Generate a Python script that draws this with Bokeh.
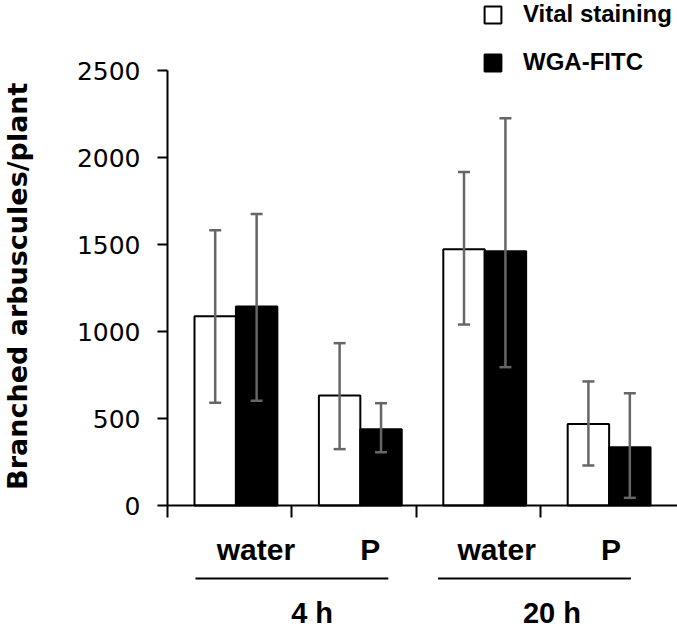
import numpy as np
from bokeh.plotting import figure
from bokeh.models import (ColumnDataSource, Range1d, LinearAxis, FixedTicker,
                          Whisker, TeeHead, Legend, LegendItem, Title)
from bokeh.core.properties import value
from bokeh.embed import file_html
from bokeh.resources import INLINE

# ---------------- data ----------------
treatments = ["water", "P", "water", "P"]
times = ["4 h", "20 h"]
series = ["Vital staining", "WGA-FITC"]

vital = [1088, 632, 1473, 469]
vital_upper = [1582, 933, 1916, 713]
vital_lower = [590, 324, 1040, 230]

wga = [1144, 438, 1461, 335]
wga_upper = [1676, 588, 2226, 645]
wga_lower = [602, 306, 795, 44]

y_ticks = [0, 500, 1000, 1500, 2000, 2500]
y_label = "Branched arbuscules/plant"

# ---------------- layout ----------------
W, H = 677, 628
LEFT = 35                # left border (frame starts here)
AXIS_X = 167             # pixel position of the y axis
Y_PX = 87 / 500.0        # pixels per y unit
X_PX = 124.4             # pixels per x unit
ZERO_FROM_BOTTOM = 123   # px between y=0 and frame bottom
BAR_W = 0.333
GROUP_OFFSET = 0.55

idx = np.arange(len(treatments))
centers = idx + GROUP_OFFSET
mids = centers.reshape(len(times), -1).mean(axis=1)

src_v = ColumnDataSource(dict(x=centers - BAR_W / 2, top=vital,
                              upper=vital_upper, lower=vital_lower))
src_w = ColumnDataSource(dict(x=centers + BAR_W / 2, top=wga,
                              upper=wga_upper, lower=wga_lower))

x_end = (W - AXIS_X) / X_PX
y0 = -ZERO_FROM_BOTTOM / Y_PX
p = figure(width=W, height=H, output_backend="svg", toolbar_location=None,
           x_range=Range1d(-(AXIS_X - LEFT) / X_PX, x_end),
           y_range=Range1d(y0, y0 + H / Y_PX),
           x_axis_location=None, y_axis_location="left",
           min_border_left=LEFT, min_border_right=0,
           min_border_top=0, min_border_bottom=0)
p.outline_line_color = None
p.grid.visible = False
p.background_fill_color = "white"
p.border_fill_color = "white"

rv = p.vbar(x="x", top="top", bottom=0, width=BAR_W, source=src_v,
            fill_color="white", line_color="black", line_width=2)
rw = p.vbar(x="x", top="top", bottom=0, width=BAR_W, source=src_w,
            fill_color="black", line_color="black", line_width=2)

for src in (src_v, src_w):
    wh = Whisker(source=src, base="x", upper="upper", lower="lower",
                 line_color="#666666", line_width=2.5, level="annotation",
                 upper_head=TeeHead(size=12, line_color="#666666", line_width=2.5),
                 lower_head=TeeHead(size=12, line_color="#666666", line_width=2.5))
    p.add_layout(wh)

# y axis, drawn at x = 0
ya = p.yaxis[0]
ya.fixed_location = 0
ya.ticker = FixedTicker(ticks=y_ticks)
ya.bounds = (0, 2500)
ya.major_tick_out = 10
ya.major_tick_in = 0
ya.minor_tick_out = 0
ya.minor_tick_in = 0
ya.axis_line_width = 2
ya.major_tick_line_width = 2
ya.axis_line_color = "black"
ya.major_tick_line_color = "black"
ya.major_label_text_font = "DejaVu Sans"
ya.major_label_text_font_size = "25px"
ya.major_label_text_color = "black"
ya.major_label_standoff = 17

# y axis title (vertical, in the left panel)
p.add_layout(Title(text=y_label, align="right", offset=82, standoff=2,
                   vertical_align="top",
                   text_font="DejaVu Sans", text_font_style="bold",
                   text_font_size="27px", text_color="black"), "left")

# x axis drawn at y = 0, ticks pointing downwards
xa = LinearAxis(fixed_location=0, ticker=FixedTicker(ticks=list(idx)),
                bounds=(0, x_end),
                major_tick_in=12, major_tick_out=0,
                minor_tick_in=0, minor_tick_out=0,
                major_label_overrides={int(i): "" for i in idx},
                major_label_text_font_size="0px", major_label_standoff=0,
                axis_line_width=2, major_tick_line_width=2,
                axis_line_color="black", major_tick_line_color="black")
p.add_layout(xa, "above")

# treatment labels
tsrc = ColumnDataSource(dict(x=centers, y=np.zeros(len(centers)), text=treatments,
                             xo=[20, 10, 12, 2]))
p.text(x="x", y="y", text="text", source=tsrc, x_offset="xo", y_offset=44,
       text_align="center", text_baseline="alphabetic",
       text_font=value("Liberation Sans"), text_font_style="bold",
       text_font_size="30px", text_color="black")

# time labels + underline
line_shift = np.array([-0.05, -0.1])
msrc = ColumnDataSource(dict(x=mids, y=np.zeros(len(mids)), text=times,
                             xo=[14, 5],
                             x0=mids + line_shift - 0.775,
                             x1=mids + line_shift + 0.775,
                             yl=np.full(len(mids), -73 / Y_PX)))
p.segment(x0="x0", x1="x1", y0="yl", y1="yl", source=msrc,
          line_color="black", line_width=2)
p.text(x="x", y="y", text="text", source=msrc, x_offset="xo", y_offset=107,
       text_align="center", text_baseline="alphabetic",
       text_font=value("Liberation Sans"), text_font_style="bold",
       text_font_size="29px", text_color="black")

legend = Legend(items=[LegendItem(label=series[0], renderers=[rv]),
                       LegendItem(label=series[1], renderers=[rw])],
                location=(482 - LEFT, H - 76), orientation="vertical",
                glyph_width=21, glyph_height=21, label_height=21,
                label_standoff=20, spacing=20, padding=0, margin=0,
                border_line_color=None, background_fill_alpha=0,
                label_text_font="Liberation Sans", label_text_font_style="bold",
                label_text_font_size="24px", label_text_color="black")
p.add_layout(legend)

open("out.html", "w").write(file_html(p, INLINE))
